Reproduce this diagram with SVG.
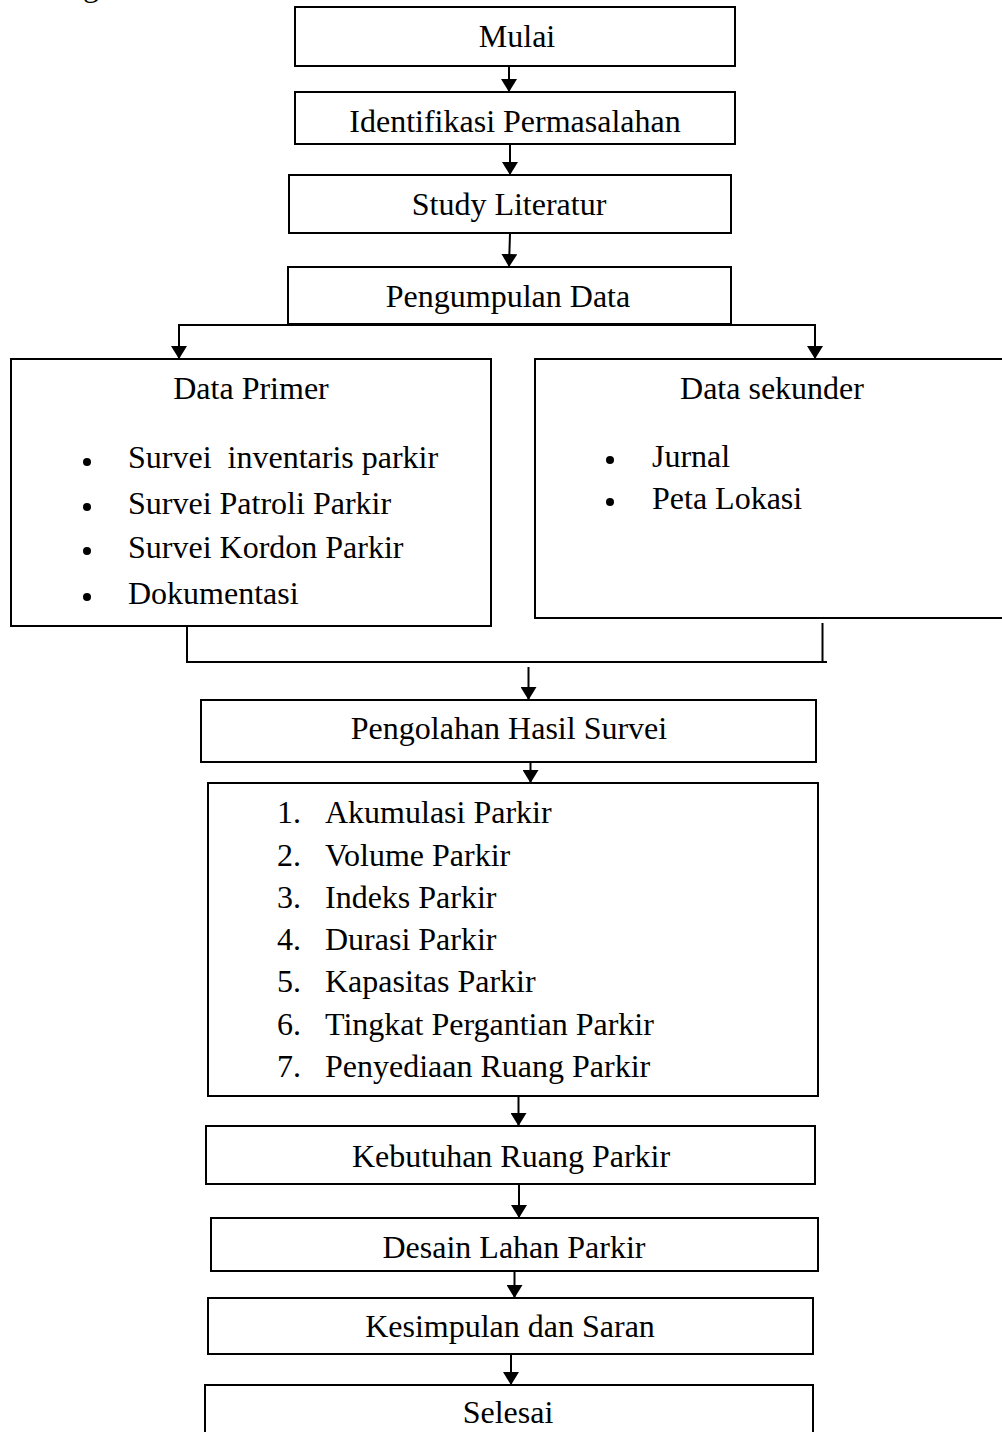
<svg xmlns="http://www.w3.org/2000/svg" width="1002" height="1432" viewBox="0 0 1002 1432">
<style>
  .box { fill: #ffffff; stroke: #000000; stroke-width: 2; }
  .t { font-family: "Liberation Serif", "Times New Roman", serif; font-size: 32px; fill: #000000; }
  .c { text-anchor: middle; }
  .ln { fill: none; stroke: #000000; stroke-width: 2; }
  .arr { fill: none; stroke: #000000; stroke-width: 2; marker-end: url(#ah); }
</style>
<defs>
  <marker id="ah" markerUnits="userSpaceOnUse" markerWidth="13" markerHeight="16" viewBox="0 0 13 16" refX="13" refY="8" orient="auto">
    <path d="M0,0 L13,8 L0,16 z" fill="#000000"/>
  </marker>
</defs>
<rect width="1002" height="1432" fill="#ffffff"/>
<text class="t" x="83" y="-4">g</text>

<g id="connectors">
  <path class="arr" d="M509,66 V92"/>
  <path class="arr" d="M510,144 V175"/>
  <path class="arr" d="M510,233 L509,267"/>
  <path class="arr" d="M509,325 H179 V359"/>
  <path class="arr" d="M509,325 H815 V359"/>
  <path class="ln" d="M187,627 V662 H827"/>
  <path class="ln" d="M822.5,623 V662"/>
  <path class="arr" d="M528.5,667 V700"/>
  <path class="arr" d="M530.5,758 V783"/>
  <path class="arr" d="M518.5,1093 V1126"/>
  <path class="arr" d="M519,1184 V1218"/>
  <path class="arr" d="M514.5,1266 V1298"/>
  <path class="arr" d="M511,1352 V1385"/>
</g>

<g id="mulai">
  <rect class="box" x="295" y="7" width="440" height="59"/>
  <text class="t c" x="517" y="47">Mulai</text>
</g>
<g id="identifikasi">
  <rect class="box" x="295" y="92" width="440" height="52"/>
  <text class="t c" x="515" y="132">Identifikasi Permasalahan</text>
</g>
<g id="study">
  <rect class="box" x="289" y="175" width="442" height="58"/>
  <text class="t c" x="509" y="215">Study Literatur</text>
</g>
<g id="pengumpulan">
  <rect class="box" x="288" y="267" width="443" height="57"/>
  <text class="t c" x="508" y="307">Pengumpulan Data</text>
</g>
<g id="data-primer">
  <rect class="box" x="11" y="359" width="480" height="267"/>
  <text class="t c" x="251" y="399">Data Primer</text>
  <circle cx="87" cy="462" r="4"/>
  <circle cx="87" cy="507" r="4"/>
  <circle cx="87" cy="551" r="4"/>
  <circle cx="87" cy="597" r="4"/>
  <text class="t" x="128" y="468" xml:space="preserve">Survei  inventaris parkir</text>
  <text class="t" x="128" y="514">Survei Patroli Parkir</text>
  <text class="t" x="128" y="558">Survei Kordon Parkir</text>
  <text class="t" x="128" y="604">Dokumentasi</text>
</g>
<g id="data-sekunder">
  <rect class="box" x="535" y="359" width="480" height="259"/>
  <text class="t c" x="772" y="399">Data sekunder</text>
  <circle cx="610" cy="460" r="4"/>
  <circle cx="610" cy="502" r="4"/>
  <text class="t" x="652" y="467">Jurnal</text>
  <text class="t" x="652" y="509">Peta Lokasi</text>
</g>
<g id="pengolahan">
  <rect class="box" x="201" y="700" width="615" height="62"/>
  <text class="t c" x="509" y="739">Pengolahan Hasil Survei</text>
</g>
<g id="parameter-list">
  <rect class="box" x="208" y="783" width="610" height="313"/>
  <text class="t" x="277" y="823">1.</text>
  <text class="t" x="325" y="823">Akumulasi Parkir</text>
  <text class="t" x="277" y="866">2.</text>
  <text class="t" x="325" y="866">Volume Parkir</text>
  <text class="t" x="277" y="908">3.</text>
  <text class="t" x="325" y="908">Indeks Parkir</text>
  <text class="t" x="277" y="950">4.</text>
  <text class="t" x="325" y="950">Durasi Parkir</text>
  <text class="t" x="277" y="992">5.</text>
  <text class="t" x="325" y="992">Kapasitas Parkir</text>
  <text class="t" x="277" y="1035">6.</text>
  <text class="t" x="325" y="1035">Tingkat Pergantian Parkir</text>
  <text class="t" x="277" y="1077">7.</text>
  <text class="t" x="325" y="1077">Penyediaan Ruang Parkir</text>
</g>
<g id="kebutuhan">
  <rect class="box" x="206" y="1126" width="609" height="58"/>
  <text class="t c" x="511" y="1167">Kebutuhan Ruang Parkir</text>
</g>
<g id="desain">
  <rect class="box" x="211" y="1218" width="607" height="53"/>
  <text class="t c" x="514" y="1258">Desain Lahan Parkir</text>
</g>
<g id="kesimpulan">
  <rect class="box" x="208" y="1298" width="605" height="56"/>
  <text class="t c" x="510" y="1337">Kesimpulan dan Saran</text>
</g>
<g id="selesai">
  <rect class="box" x="205" y="1385" width="608" height="60"/>
  <text class="t c" x="508" y="1423">Selesai</text>
</g>
</svg>
